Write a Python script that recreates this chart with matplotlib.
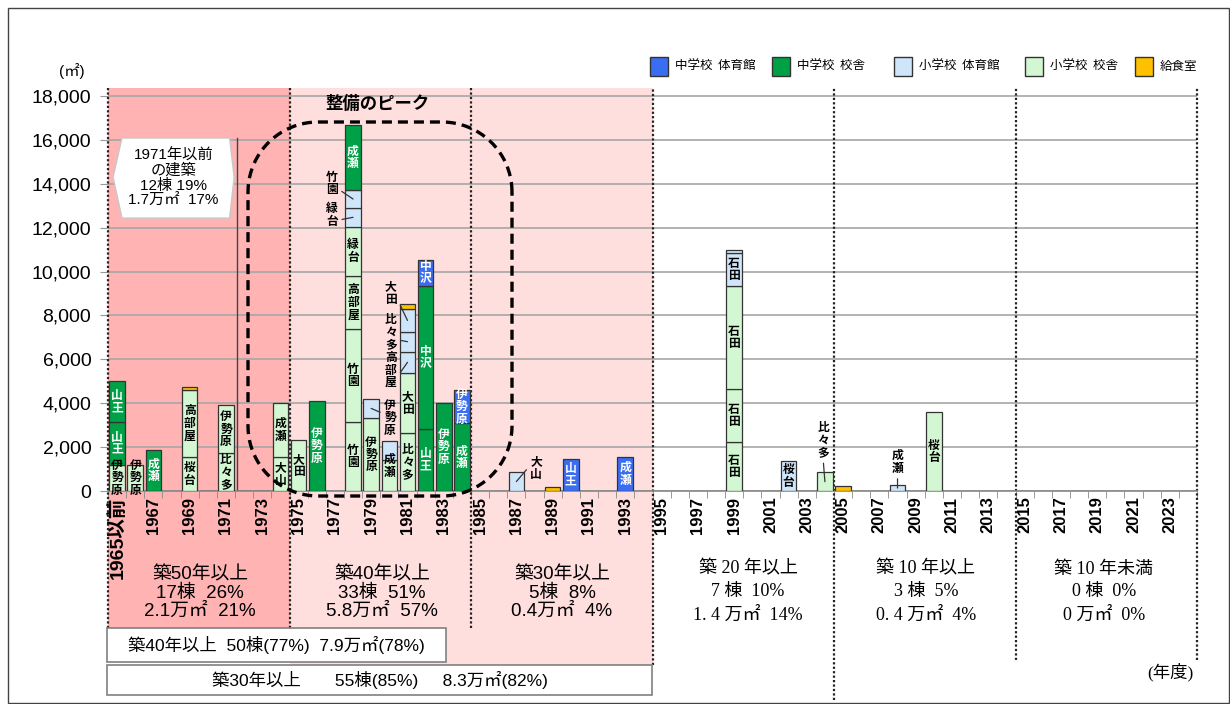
import numpy as np
import matplotlib
matplotlib.use('Agg')
import matplotlib.pyplot as plt
from matplotlib.patches import Rectangle, Polygon

plt.rcParams['font.family'] = ['Liberation Sans', 'Noto Sans CJK JP']

# categories (fiscal year of construction)
years = ['1965以前'] + [str(y) for y in range(1966, 2025)]

# building types
kind_names = {'JG': '中学校  体育館', 'JB': '中学校  校舎', 'EG': '小学校  体育館',
              'EB': '小学校  校舎', 'K': '給食室'}
kind_colors = {'JG': '#3A6EF2', 'JB': '#00A046', 'EG': '#CFE6FA', 'EB': '#D2F7D2', 'K': '#FFC000'}
kind_text = {'JG': 'white', 'JB': 'white', 'EG': 'black', 'EB': 'black', 'K': 'black'}

# one entry per building, stacked bottom -> top within each year (m2)
seg_year = ['1965以前', '1965以前', '1965以前', '1966', '1967',
            '1969', '1969', '1969', '1970', '1971', '1971', '1972', '1973',
            '1974', '1974', '1975', '1976',
            '1978', '1978', '1978', '1978', '1978', '1978', '1978',
            '1979', '1979', '1980', '1980',
            '1981', '1981', '1981', '1981', '1981', '1981',
            '1982', '1982', '1982', '1983', '1984', '1984',
            '1987', '1989', '1990', '1993',
            '1999', '1999', '1999', '1999', '1999',
            '2002', '2004', '2005', '2008', '2010']
seg_kind = ['EB', 'JB', 'JB', 'EB', 'JB',
            'EB', 'EB', 'K', 'EB', 'EB', 'EB', 'EB', 'EB',
            'EB', 'EB', 'EB', 'JB',
            'EB', 'EB', 'EB', 'EB', 'EG', 'EG', 'JB',
            'EB', 'EG', 'EB', 'EG',
            'EB', 'EB', 'EG', 'EG', 'EG', 'K',
            'JB', 'JB', 'JG', 'JB', 'JB', 'JG',
            'EG', 'K', 'JG', 'JG',
            'EB', 'EB', 'EB', 'EG', 'EG',
            'EG', 'EB', 'K', 'EG', 'EB']
seg_area = [1200, 1950, 1850, 1200, 1870,
            1560, 3040, 150, 0, 1720, 2200, 0, 0,
            1560, 2440, 2320, 4120,
            3160, 4220, 2430, 2240, 850, 820, 2960,
            3330, 870, 1400, 900,
            2640, 2740, 970, 910, 1030, 230,
            2830, 6530, 1170, 4030, 3080, 1520,
            860, 200, 1450, 1550,
            2250, 2400, 4710, 1470, 170,
            1380, 850, 230, 270, 3620]
seg_name = ['伊勢原', '山王', '山王', '伊勢原', '成瀬',
            '桜台', '高部屋', '', '', '比々多', '伊勢原', '', '',
            '大山', '成瀬', '大田', '伊勢原',
            '竹園', '竹園', '高部屋', '緑台', '緑台', '竹園', '成瀬',
            '伊勢原', '伊勢原', '成瀬', '',
            '比々多', '大田', '高部屋', '比々多', '大田', '',
            '山王', '中沢', '中沢', '伊勢原', '成瀬', '伊勢原',
            '大山', '', '山王', '成瀬',
            '石田', '石田', '石田', '石田', '',
            '桜台', '比々多', '', '成瀬', '桜台']

# labels drawn outside the bar with a leader line: offset (dx, dy) from segment centre
out_labels = {
    ('1978', 'EG', '緑台'): (-1.16, 100),
    ('1978', 'EG', '竹園'): (-1.16, 700),
    ('1979', 'EG', '伊勢原'): (1.04, -430),
    ('1981', 'EG', '高部屋'): (-0.91, -350),
    ('1981', 'EG', '比々多'): (-0.91, 440),
    ('1981', 'EG', '大田'): (-0.91, 1250),
    ('1987', 'EG', '大山'): (1.08, 620),
    ('2004', 'EB', '比々多'): (-0.1, 1900),
    ('2008', 'EG', '成瀬'): (0.0, 1190),
}
label_shift = {('1980', 'EB', '成瀬'): 450}

W, H = 1230, 704


def fx(px):
    return px / W


def fy(py):
    return 1 - py / H


fig = plt.figure(figsize=(12.3, 7.04), dpi=100)
ax = fig.add_axes([fx(108), fy(491), fx(1197) - fx(108), fy(88) - fy(491)])
ax.set_xlim(-0.5, len(years) - 0.5)
ax.set_ylim(0, 18370)
ax.set_axisbelow(True)

# age-band backgrounds (reach below the axis into the text area)
def ax_frac(py):
    return (491 - py) / 403.0

trans = ax.get_xaxis_transform()
ax.add_patch(Rectangle((-0.5, ax_frac(628)), 10, 1 - ax_frac(628), transform=trans,
                       facecolor='#FFB3B3', edgecolor='none', zorder=0.1, clip_on=False))
ax.add_patch(Rectangle((9.5, ax_frac(665)), 20, 1 - ax_frac(665), transform=trans,
                       facecolor='#FFDEDE', edgecolor='none', zorder=0.1, clip_on=False))

# dotted band separators
sep_x = [-0.5, 9.5, 19.5, 29.5, 39.5, 49.5, 59.5]
sep_bottom = [628, 628, 628, 665, 700, 660, 660]
for sx, sb in zip(sep_x, sep_bottom):
    ax.plot([sx, sx], [ax_frac(sb), 1], transform=trans, color='#222222', lw=1.6,
            linestyle=(0, (1, 1)), clip_on=False, zorder=2)

# bars
x_of = {y: i for i, y in enumerate(years)}
bottoms = {}
for yr, k, a, nm in zip(seg_year, seg_kind, seg_area, seg_name):
    x = x_of[yr]
    b = bottoms.get(yr, 0)
    ax.bar(x, a, 0.86, bottom=b, color=kind_colors[k], edgecolor='#333333',
           linewidth=0.9, zorder=3)
    bottoms[yr] = b + a
    if not nm:
        continue
    cy = b + a / 2
    vtxt = '\n'.join(nm)
    key = (yr, k, nm)
    if key in out_labels:
        dx, dy = out_labels[key]
        if dx < -0.3:
            rel = (1, 0.3)
        elif dx > 0.3:
            rel = (0, 0.6)
        else:
            rel = (0.5, 0)
        ax.annotate(vtxt, xy=(x, cy), xytext=(x + dx, cy + dy), ha='center', va='center',
                    fontsize=8.5, fontweight='bold', family='Noto Sans CJK JP',
                    linespacing=0.95, color='black', zorder=5,
                    arrowprops=dict(arrowstyle='-', color='#333333', lw=0.9,
                                    relpos=rel, shrinkA=1, shrinkB=0))
    else:
        cy += label_shift.get(key, 0)
        ax.text(x, cy, vtxt, ha='center', va='center', fontsize=8.5, fontweight='bold',
                family='Noto Sans CJK JP', linespacing=0.95, color=kind_text[k], zorder=5)

# axes styling
ax.set_yticks(range(0, 18001, 2000))
ax.set_yticklabels([f'{v:,}' for v in range(0, 18001, 2000)], fontsize=14)
ax.yaxis.grid(True, color='#A6A6A6', lw=1.2)
ax.tick_params(axis='y', length=6, color='#999999', pad=6)
ax.set_xticks(range(0, len(years), 2))
ax.set_xticklabels(years[::2], rotation=90, fontsize=12, fontweight='bold', va='top')
ax.get_xticklabels()[0].set_fontsize(14)
ax.set_xticks(np.arange(-0.5, len(years), 1), minor=True)
ax.tick_params(axis='x', which='major', length=0, pad=4)
ax.tick_params(axis='x', which='minor', length=5, color='#888888')
for s in ['left', 'top', 'right']:
    ax.spines[s].set_visible(False)
ax.spines['bottom'].set_color('#888888')
ax.spines['bottom'].set_linewidth(1.2)

# 1971 divider and label box
ax.plot([6.6, 6.6], [0, 16100], color='#444444', lw=1, zorder=2)
hexagon = Polygon([(-0.22, 14310), (0.27, 16090), (6.2, 16090), (6.45, 14310),
                   (6.2, 12440), (0.27, 12440)], closed=True, facecolor='white',
                  edgecolor='#C8C8C8', lw=1, zorder=4)
ax.add_patch(hexagon)
ax.text(3.1, 14270, '1971年以前\nの建築\n12棟 19%\n1.7万㎡  17%', ha='center', va='center',
        fontsize=11, linespacing=1.05, zorder=5)

# peak box (dashed rounded rectangle)
def rounded_box(x0, x1, top, bot, r, n=24):
    ytop, ybot = H - top, H - bot
    pts = []
    for cx, cy, a0 in [(x1 - r, ytop - r, 0), (x0 + r, ytop - r, 90),
                       (x0 + r, ybot + r, 180), (x1 - r, ybot + r, 270)]:
        t = np.radians(np.linspace(a0, a0 + 90, n))
        pts += list(zip((cx + r * np.cos(t)) / W, (cy + r * np.sin(t)) / H))
    return pts

fig.add_artist(Polygon(rounded_box(248, 512, 122, 496, 70), closed=True, fill=False,
                       edgecolor='black', lw=2.4, linestyle=(0, (3, 1.8)),
                       transform=fig.transFigure, zorder=6))
fig.text(fx(378), fy(104), '整備のピーク', ha='center', va='center', fontsize=12.5,
         fontweight='bold', family='Noto Sans CJK JP')

# unit labels
fig.text(fx(72), fy(71), '(㎡)', ha='center', va='center', fontsize=11)
serif = ['Liberation Serif', 'Noto Sans CJK JP']
fig.text(fx(1170), fy(672), '(年度)', ha='center', va='center', fontsize=12.5, family=serif)

# band summaries
left_txt = ['築50年以上\n17棟  26%\n2.1万㎡  21%',
            '築40年以上\n33棟  51%\n5.8万㎡  57%',
            '築30年以上\n5棟  8%\n0.4万㎡  4%']
for cx, t in zip([200, 382, 562], left_txt):
    fig.text(fx(cx), fy(593), t, ha='center', va='center', fontsize=13.5, linespacing=1.05)
right_txt = ['築 20 年以上\n7 棟  10%\n1. 4 万㎡  14%',
             '築 10 年以上\n3 棟  5%\n0. 4 万㎡  4%',
             '築 10 年未満\n0 棟  0%\n0 万㎡  0%']
for cx, t in zip([748, 926, 1104], right_txt):
    fig.text(fx(cx), fy(592), t, ha='center', va='center', fontsize=13, linespacing=1.45,
             family=serif)

# cumulative boxes
for (x0, x1, t0, t1, txt) in [(107, 446, 628, 662, '築40年以上  50棟(77%)  7.9万㎡(78%)'),
                              (107, 652, 665, 695, '築30年以上       55棟(85%)     8.3万㎡(82%)')]:
    fig.add_artist(Rectangle((fx(x0), fy(t1)), fx(x1) - fx(x0), fy(t0) - fy(t1),
                             transform=fig.transFigure, facecolor='white',
                             edgecolor='#808080', lw=1.2, zorder=3))
    fig.text(fx((x0 + x1) / 2), fy((t0 + t1) / 2), txt, ha='center', va='center',
             fontsize=12.5, zorder=4)

# legend
leg_sq = [650, 772, 894, 1025, 1135]
for sx, k in zip(leg_sq, ['JG', 'JB', 'EG', 'EB', 'K']):
    fig.add_artist(Rectangle((fx(sx), fy(76)), 18 / W, 19 / H, transform=fig.transFigure,
                             facecolor=kind_colors[k], edgecolor='#333333', lw=1))
    fig.text(fx(sx + 25), fy(66.5), kind_names[k], ha='left', va='center', fontsize=9,
             family='Noto Sans CJK JP')

# outer frame
fig.add_artist(Rectangle((fx(8), fy(703)), fx(1229) - fx(8), fy(8) - fy(703),
                         transform=fig.transFigure, fill=False, edgecolor='#444444', lw=1))

fig.savefig('out.png', dpi=100)
